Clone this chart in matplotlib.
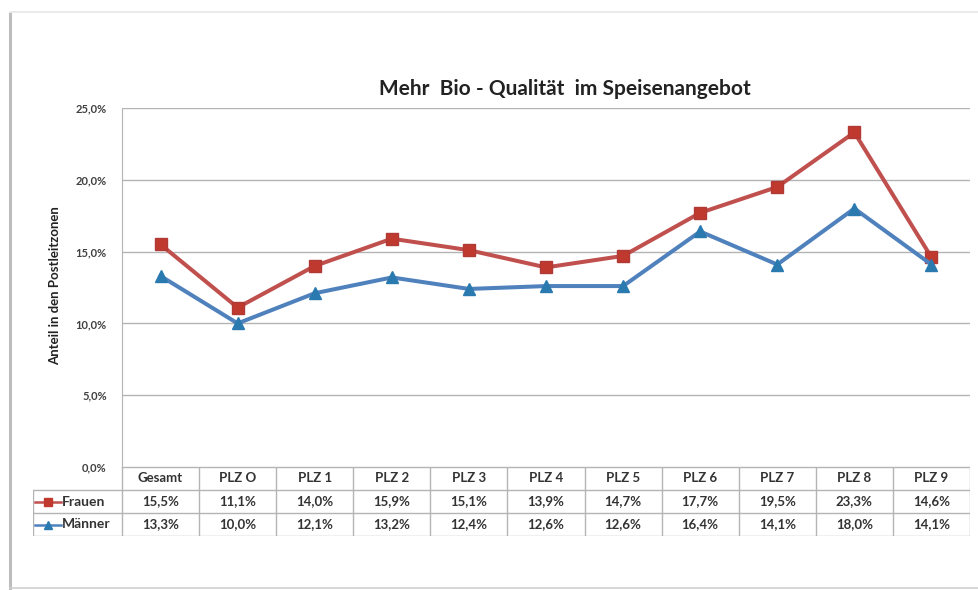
import matplotlib
matplotlib.use("Agg")
import matplotlib.pyplot as plt
import matplotlib.ticker as mticker
from matplotlib.lines import Line2D
import numpy as np

# ---------------------------------------------------------------------------
# data
# ---------------------------------------------------------------------------
categories = ["Gesamt", "PLZ O", "PLZ 1", "PLZ 2", "PLZ 3", "PLZ 4",
              "PLZ 5", "PLZ 6", "PLZ 7", "PLZ 8", "PLZ 9"]
frauen = [15.5, 11.1, 14.0, 15.9, 15.1, 13.9, 14.7, 17.7, 19.5, 23.3, 14.6]
maenner = [13.3, 10.0, 12.1, 13.2, 12.4, 12.6, 12.6, 16.4, 14.1, 18.0, 14.1]
series_names = ["Frauen", "Männer"]
yticks = [0, 5, 10, 15, 20, 25]

RED = "#C0504D"
BLUE = "#4F81BD"
GRID = "#B4B4B4"
TXT = "#333333"
FONT = "Lato"

W, H = 979, 590


def fx(px):
    return px / W


def fy(py):
    return 1 - py / H


fig = plt.figure(figsize=(W / 100, H / 100), dpi=100)
fig.patch.set_facecolor("white")

# card border / shadow
fig.add_artist(Line2D([fx(10), fx(10)], [fy(14), fy(588)], color="#BDBDBD", lw=2.2))
fig.add_artist(Line2D([fx(10), fx(979)], [fy(12), fy(12)], color="#E6E6E6", lw=1.2))
fig.add_artist(Line2D([fx(10), fx(979)], [fy(588), fy(588)], color="#D0D0D0", lw=1.2))

# ---------------------------------------------------------------------------
# plot area
# ---------------------------------------------------------------------------
left_px, right_px, top_px, zero_px = 122, 970, 108, 467
ax = fig.add_axes([fx(left_px), fy(zero_px), fx(right_px - left_px),
                   (zero_px - top_px) / H])
x = np.arange(len(categories))

ax.plot(x, frauen, color=RED, lw=2.9, marker="s", markersize=9,
        markerfacecolor="#C0392F", markeredgecolor="#B03A36", zorder=4)
ax.plot(x, maenner, color=BLUE, lw=2.9, marker="^", markersize=9,
        markerfacecolor="#2A7AB0", markeredgecolor="#2A7AB0", zorder=4)

ax.set_xlim(-0.5, len(categories) - 0.5)
ax.set_ylim(0, 25)
ax.set_yticks(yticks)
ax.yaxis.set_major_formatter(
    mticker.FuncFormatter(lambda v, _: f"{v:.1f}%".replace(".", ",")))
ax.tick_params(axis="y", length=0, pad=11, labelsize=8, labelcolor="#404040")
for lab in ax.get_yticklabels():
    lab.set_fontweight("bold")
    lab.set_family(FONT)
ax.set_xticks([])
ax.grid(axis="y", color=GRID, lw=1.0)
ax.set_axisbelow(True)
for side in ["top", "right", "bottom"]:
    ax.spines[side].set_visible(False)
ax.spines["left"].set_color(GRID)

fig.text(fx(565), fy(89), "Mehr  Bio - Qualität  im Speisenangebot",
         ha="center", va="center", fontsize=15, fontweight="bold",
         family=FONT, color="#222222")
fig.text(fx(55), fy(286), "Anteil in den Postleitzonen", rotation=90,
         ha="center", va="center", fontsize=9.5, fontweight="bold",
         family=FONT, color="#222222")

# ---------------------------------------------------------------------------
# data table
# ---------------------------------------------------------------------------
tab_left_px, tab_bottom_px = 33, 536
unit = (right_px - left_px) / len(categories)
x_left = -0.5 - (left_px - tab_left_px) / unit
tab = fig.add_axes([fx(tab_left_px), fy(tab_bottom_px),
                    fx(right_px - tab_left_px), (tab_bottom_px - zero_px) / H])
tab.set_xlim(x_left, len(categories) - 0.5)
tab.set_ylim(3, 0)
tab.axis("off")

xr = len(categories) - 0.5
tab.plot([-0.5, xr], [0, 0], color=GRID, lw=1.0)
for yy in [1, 2, 3]:
    tab.plot([x_left, xr], [yy, yy], color=GRID, lw=1.0)
for k in range(len(categories) + 1):
    tab.plot([-0.5 + k, -0.5 + k], [0, 3], color=GRID, lw=1.0)
tab.plot([x_left, x_left], [1, 3], color=GRID, lw=1.0)

for i, cat in enumerate(categories):
    tab.text(i, 0.5, cat, ha="center", va="center", fontsize=9.5,
             fontweight="bold", family=FONT, color=TXT)
for row, vals in enumerate([frauen, maenner], start=1):
    for i, v in enumerate(vals):
        tab.text(i, row + 0.5, f"{v:.1f}%".replace(".", ","), ha="center",
                 va="center", fontsize=9.5, fontweight="bold", family=FONT,
                 color=TXT)

# legend keys inside the table
keys = [(RED, "s", "#C0392F"), (BLUE, "^", "#2A7AB0")]
for row, (name, (col, mk, mfc)) in enumerate(zip(series_names, keys), start=1):
    tab.plot([x_left + 0.03, x_left + 0.36], [row + 0.5, row + 0.5],
             color=col, lw=1.8)
    tab.plot([x_left + 0.195], [row + 0.5], marker=mk, markersize=6,
             color=mfc, lw=0)
    tab.text(x_left + 0.37, row + 0.5, name, ha="left", va="center",
             fontsize=10, fontweight="bold", family=FONT, color=TXT)

fig.savefig("out.png", dpi=100)
